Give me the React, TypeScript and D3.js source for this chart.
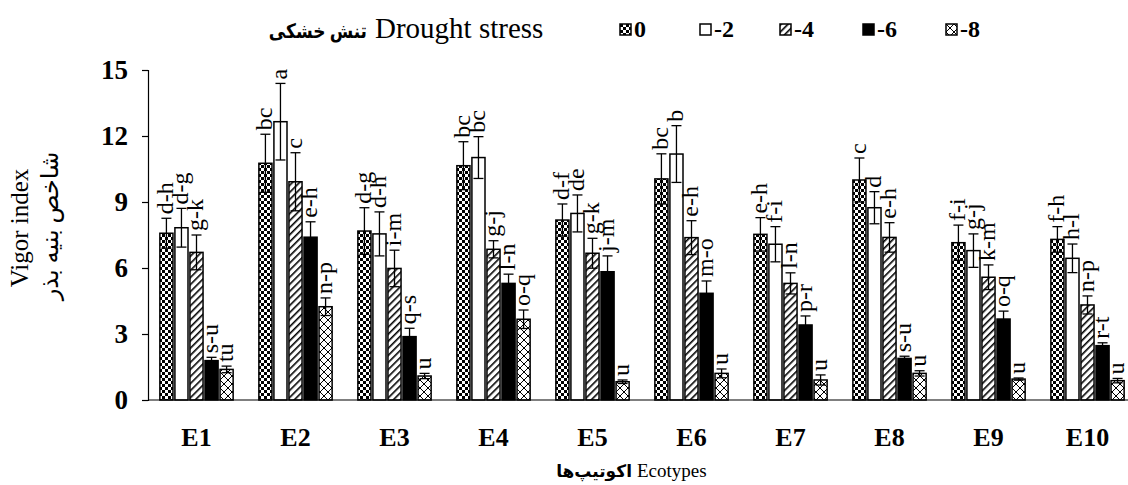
// @ts-nocheck
import { useEffect, useRef } from 'react'
import * as d3 from 'd3'

const categories = ['E1', 'E2', 'E3', 'E4', 'E5', 'E6', 'E7', 'E8', 'E9', 'E10']
const seriesNames = ['0', '-2', '-4', '-6', '-8']

// mean values per drought level
const s0 = [7.58, 10.76, 7.68, 10.65, 8.18, 10.05, 7.53, 10.0, 7.15, 7.3]
const s2 = [7.83, 12.65, 7.55, 11.02, 8.48, 11.18, 7.08, 8.74, 6.79, 6.44]
const s4 = [6.71, 9.92, 5.98, 6.85, 6.67, 7.38, 5.3, 7.39, 5.58, 4.32]
const s6 = [1.79, 7.4, 2.88, 5.3, 5.83, 4.85, 3.41, 1.89, 3.68, 2.47]
const s8 = [1.39, 4.24, 1.09, 3.67, 0.83, 1.21, 0.91, 1.21, 0.95, 0.88]

// error bar half-lengths
const e0 = [0.68, 1.32, 1.06, 1.09, 0.73, 1.14, 0.76, 1.0, 0.8, 0.58]
const e2 = [0.88, 1.74, 1.0, 0.95, 0.84, 1.29, 0.8, 0.73, 0.76, 0.65]
const e4 = [0.79, 1.32, 0.83, 0.39, 0.68, 0.77, 0.48, 0.67, 0.56, 0.41]
const e6 = [0.15, 0.7, 0.38, 0.42, 0.72, 0.56, 0.41, 0.1, 0.36, 0.13]
const e8 = [0.15, 0.4, 0.12, 0.42, 0.08, 0.2, 0.23, 0.12, 0.05, 0.1]

// mean comparison letters
const l0 = ['d-h', 'bc', 'd-g', 'bc', 'd-f', 'bc', 'e-h', 'c', 'f-i', 'f-h']
const l2 = ['d-g', 'a', 'd-h', 'bc', 'de', 'b', 'f-i', 'd', 'g-j', 'h-l']
const l4 = ['g-k', 'c', 'i-m', 'g-j', 'g-k', 'e-h', 'l-n', 'e-h', 'k-m', 'n-p']
const l6 = ['s-u', 'e-h', 'q-s', 'l-n', 'j-m', 'm-o', 'p-r', 's-u', 'o-q', 'r-t']
const l8 = ['tu', 'n-p', 'u', 'o-q', 'u', 'u', 'u', 'u', 'u', 'u']

const yTicks = [0, 3, 6, 9, 12, 15]

const values = [s0, s2, s4, s6, s8]
const errors = [e0, e2, e4, e6, e8]
const letters = [l0, l2, l4, l6, l8]
const fills = ['url(#pChk)', '#fff', 'url(#pHatch)', '#000', 'url(#pCross)']

const serif = "'Liberation Serif', 'Times New Roman', 'DejaVu Serif', 'DejaVu Sans', serif"

export default function App() {
  const svgRef = useRef<any>()
  const W = 1128
  const H = 485

  useEffect(() => {
    const svg = d3.select(svgRef.current)
    svg.selectAll('*').remove()

    // patterns
    const defs = svg.append('defs')
    const chk = defs.append('pattern').attr('id', 'pChk').attr('patternUnits', 'userSpaceOnUse')
      .attr('width', 6).attr('height', 6)
    chk.append('rect').attr('width', 6).attr('height', 6).attr('fill', '#fff')
    chk.append('rect').attr('width', 3).attr('height', 3).attr('fill', '#000')
    chk.append('rect').attr('x', 3).attr('y', 3).attr('width', 3).attr('height', 3).attr('fill', '#000')

    const hatch = defs.append('pattern').attr('id', 'pHatch').attr('patternUnits', 'userSpaceOnUse')
      .attr('width', 5).attr('height', 5).attr('patternTransform', 'rotate(45)')
    hatch.append('rect').attr('width', 5).attr('height', 5).attr('fill', '#fff')
    hatch.append('rect').attr('width', 1.6).attr('height', 5).attr('fill', '#000')

    const cross = defs.append('pattern').attr('id', 'pCross').attr('patternUnits', 'userSpaceOnUse')
      .attr('width', 8).attr('height', 8)
    cross.append('rect').attr('width', 8).attr('height', 8).attr('fill', '#fff')
    cross.append('path').attr('d', 'M0,0L8,8M8,0L0,8').attr('stroke', '#000').attr('stroke-width', 1)

    const x0 = d3.scaleBand().domain(categories).range([147, 1137]).paddingInner(0.26).paddingOuter(0.13)
    const x1 = d3.scaleBand().domain(seriesNames).range([0, x0.bandwidth()]).paddingInner(0.13)
    const y = d3.scaleLinear().domain([0, 15]).range([400, 70])

    // bars
    const rows = []
    seriesNames.forEach((s, si) => {
      categories.forEach((c, ci) => {
        rows.push({ s, si, c, v: values[si][ci], e: errors[si][ci], lab: letters[si][ci] })
      })
    })

    const g = svg.append('g')
    g.selectAll('rect.bar').data(rows).enter().append('rect')
      .attr('class', 'bar')
      .attr('x', (d) => x0(d.c) + x1(d.s))
      .attr('y', (d) => y(d.v))
      .attr('width', x1.bandwidth())
      .attr('height', (d) => y(0) - y(d.v))
      .attr('fill', (d) => fills[d.si])
      .attr('stroke', '#000')
      .attr('stroke-width', 1.5)

    // error bars
    const cap = 5
    const eb = g.selectAll('g.eb').data(rows).enter().append('g').attr('class', 'eb')
      .attr('stroke', '#000').attr('stroke-width', 1.3)
    const cx = (d) => x0(d.c) + x1(d.s) + x1.bandwidth() / 2
    eb.append('line').attr('x1', cx).attr('x2', cx)
      .attr('y1', (d) => y(d.v - d.e)).attr('y2', (d) => y(d.v + d.e))
    eb.append('line').attr('x1', (d) => cx(d) - cap).attr('x2', (d) => cx(d) + cap)
      .attr('y1', (d) => y(d.v + d.e)).attr('y2', (d) => y(d.v + d.e))
    eb.append('line').attr('x1', (d) => cx(d) - cap).attr('x2', (d) => cx(d) + cap)
      .attr('y1', (d) => y(d.v - d.e)).attr('y2', (d) => y(d.v - d.e))

    // letters
    g.selectAll('text.lab').data(rows).enter().append('text')
      .attr('class', 'lab')
      .attr('transform', (d) => `translate(${cx(d) - 1},${y(d.v + d.e) - 4}) rotate(-90)`)
      .attr('dy', '0.3em')
      .attr('font-family', serif)
      .attr('font-size', 24)
      .text((d) => d.lab)

    // y axis
    const yAxis = d3.axisLeft(y).tickValues(yTicks).tickSize(6).tickPadding(14)
    const ya = svg.append('g').attr('transform', 'translate(148,0)').call(yAxis)
    ya.selectAll('path,line').attr('stroke', '#000').attr('stroke-width', 1.2)
    ya.selectAll('text').attr('font-family', serif).attr('font-size', 27).attr('font-weight', 'bold').attr('fill', '#000')

    // x axis
    svg.append('line').attr('x1', 148).attr('x2', W).attr('y1', y(0)).attr('y2', y(0))
      .attr('stroke', '#000').attr('stroke-width', 1.2)
    svg.append('g').selectAll('text').data(categories).enter().append('text')
      .attr('x', (c) => x0(c) + x0.bandwidth() / 2)
      .attr('y', 446)
      .attr('text-anchor', 'middle')
      .attr('font-family', serif).attr('font-size', 26).attr('font-weight', 'bold')
      .text((c) => c)

    // axis titles
    svg.append('text').attr('transform', 'translate(28,228) rotate(-90)')
      .attr('text-anchor', 'middle').attr('font-family', serif).attr('font-size', 25)
      .text('Vigor index')
    svg.append('text').attr('transform', 'translate(58,226) rotate(-90)')
      .attr('text-anchor', 'middle').attr('font-family', serif).attr('font-size', 24)
      .text('شاخص بنیه بذر')

    svg.append('text').attr('x', 632).attr('y', 477).attr('text-anchor', 'end')
      .attr('font-family', serif).attr('font-size', 17).attr('font-weight', 'bold')
      .text('اکوتیپ‌ها')
    svg.append('text').attr('x', 637).attr('y', 477)
      .attr('font-family', serif).attr('font-size', 19)
      .text('Ecotypes')

    // title
    svg.append('text').attr('transform', 'translate(367,38) scale(0.85,1)').attr('text-anchor', 'end')
      .attr('font-family', serif).attr('font-size', 20).attr('font-weight', 'bold')
      .text('تنش خشکی')
    svg.append('text').attr('x', 375).attr('y', 38)
      .attr('font-family', serif).attr('font-size', 29)
      .text('Drought stress')

    // legend
    const lx = d3.scaleOrdinal().domain(seriesNames).range([620, 700, 780, 863, 946])
    const lg = svg.append('g').selectAll('g').data(seriesNames).enter().append('g')
      .attr('transform', (s) => `translate(${lx(s)},24)`)
    lg.append('rect').attr('width', 11).attr('height', 11)
      .attr('fill', (s, i) => fills[i]).attr('stroke', '#000').attr('stroke-width', 1.5)
    lg.append('text').attr('x', 14).attr('y', 13)
      .attr('font-family', serif).attr('font-size', 24).attr('font-weight', 'bold')
      .text((s) => s)
  }, [])

  return (
    <svg
      ref={svgRef}
      width={W}
      height={H}
      style={{ position: 'absolute', left: 0, top: 0, background: '#fff' }}
    ></svg>
  )
}
